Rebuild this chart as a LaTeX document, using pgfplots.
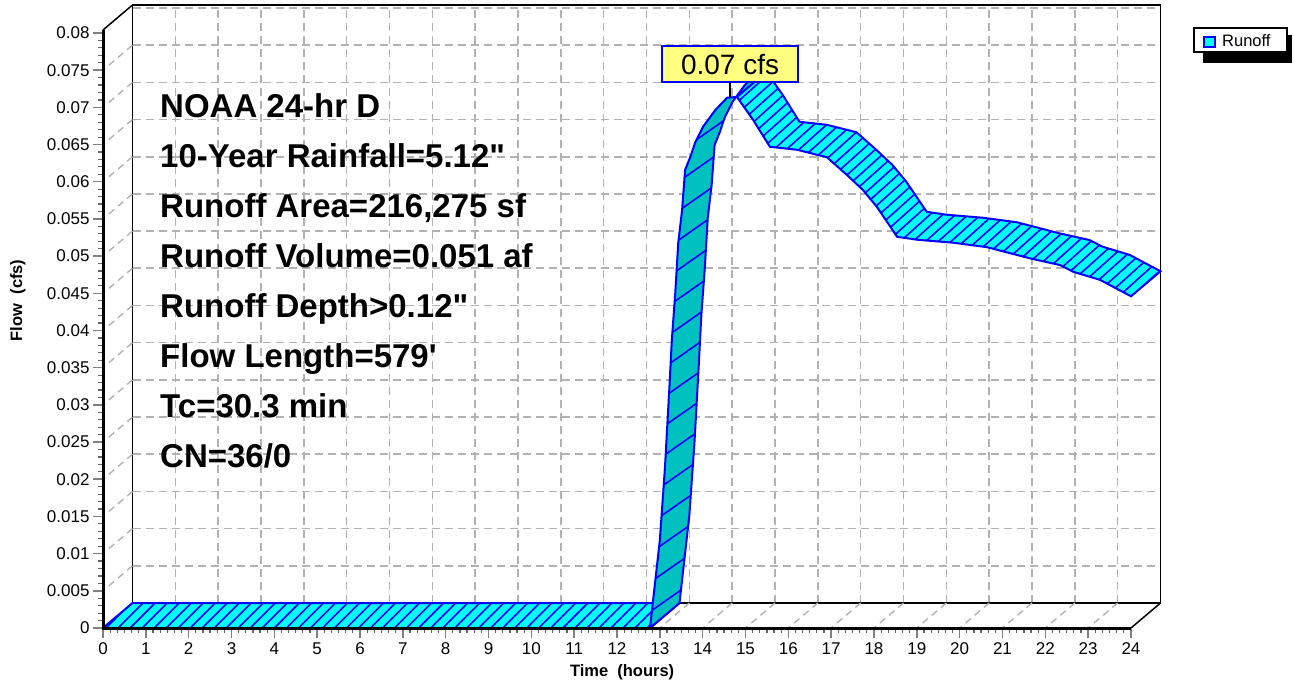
\documentclass[border=0pt]{standalone}
\usepackage{fontspec}
\setmainfont{Liberation Sans}
\usepackage{pgfplots}
\pgfplotsset{compat=1.18}
\usepackage{pgfplotstable}
\usetikzlibrary{patterns.meta}

\definecolor{runcyan}{RGB}{0,255,255}
\definecolor{rundark}{RGB}{0,192,192}
\definecolor{gridgray}{RGB}{178,178,178}
\definecolor{tagyellow}{RGB}{255,255,128}

% runoff hydrograph (hours, cfs) as closed ribbon outlines:
% s=0 front edge, s=1 back edge (same values, shifted by the ribbon depth)
\pgfplotstableread{
t q s
0 0 0
12.77 0 0
12.77 0 1
0 0 1
0 0 0
}\tabflat
\pgfplotstableread{
t q s
12.77 0 0
13.00 0.0118 0
13.12 0.0216 0
13.22 0.0320 0
13.28 0.0387 0
13.36 0.0450 0
13.43 0.0518 0
13.52 0.0562 0
13.59 0.0616 0
13.71 0.0633 0
13.82 0.0652 0
14.01 0.0674 0
14.29 0.0696 0
14.57 0.0713 0
14.80 0.0714 0
14.80 0.0714 1
14.57 0.0713 1
14.29 0.0696 1
14.01 0.0674 1
13.82 0.0652 1
13.71 0.0633 1
13.59 0.0616 1
13.52 0.0562 1
13.43 0.0518 1
13.36 0.0450 1
13.28 0.0387 1
13.22 0.0320 1
13.12 0.0216 1
13.00 0.0118 1
12.77 0 1
12.77 0 0
}\tabrise
\pgfplotstableread{
t q s
14.80 0.0714 0
15.18 0.0683 0
15.57 0.0647 0
16.20 0.0643 0
16.90 0.0633 0
17.37 0.0609 0
17.74 0.0589 0
18.07 0.0566 0
18.54 0.0526 0
19.01 0.0522 0
19.85 0.0518 0
20.64 0.0512 0
21.64 0.0497 0
22.34 0.0488 0
22.65 0.0479 0
23.28 0.0468 0
24.00 0.0446 0
24.00 0.0446 1
23.28 0.0468 1
22.65 0.0479 1
22.34 0.0488 1
21.64 0.0497 1
20.64 0.0512 1
19.85 0.0518 1
19.01 0.0522 1
18.54 0.0526 1
18.07 0.0566 1
17.74 0.0589 1
17.37 0.0609 1
16.90 0.0633 1
16.20 0.0643 1
15.57 0.0647 1
15.18 0.0683 1
14.80 0.0714 1
14.80 0.0714 0
}\tabfall

% depth of the 3d ribbon in axis units
\newcommand{\dt}{0.689}
\newcommand{\dq}{0.00336}
\newcommand{\tickfont}{\fontsize{17}{20}\selectfont}

\begin{document}
\begin{tikzpicture}
\path[use as bounding box] (0pt,0pt) rectangle (1294pt,686pt);

% back wall with grid
\begin{axis}[
  at={(132.5pt,83pt)}, anchor=south west,
  scale only axis, width=1028pt, height=598pt,
  xmin=0, xmax=24, ymin=0, ymax=0.0804,
  xtick distance=1, ytick distance=0.005,
  xticklabels={}, yticklabels={},
  scaled x ticks=false, scaled y ticks=false,
  major tick length=0pt,
  grid=major,
  grid style={gridgray, line width=1.6pt, dash pattern=on 8pt off 5pt},
  axis line style={black, line width=1.5pt},
  clip=false,
]
  \addplot[draw=none] coordinates {(0,0) (24,0.08)};
  % floor and side wall lines
  \pgfplotsinvokeforeach{1,...,23}{
    \draw[gridgray, line width=1.4pt, dash pattern=on 7pt off 5pt] (axis cs:#1,0) -- ++(-29.5pt,-25pt);
  }
  \pgfplotsinvokeforeach{1,...,15}{
    \draw[gridgray, line width=1.4pt, dash pattern=on 7pt off 5pt] (axis cs:0,#1*0.005) -- ++(-29.5pt,-25pt);
  }
  \draw[black, line width=1.5pt] (rel axis cs:0,1) -- ++(-29.5pt,-25pt);
  \draw[black, line width=1.5pt] (rel axis cs:1,0) -- ++(-29.5pt,-25pt);
\end{axis}

% front axes with the ribbon
\begin{axis}[
  at={(103pt,58pt)}, anchor=south west,
  scale only axis, width=1028pt, height=598pt,
  xmin=0, xmax=24, ymin=0, ymax=0.0804,
  axis x line*=bottom, axis y line*=left,
  axis line style={line width=3pt, black, -},
  clip=false,
  xtick distance=1, ytick distance=0.005,
  minor x tick num=5, minor y tick num=4,
  tick align=outside,
  major tick length=10pt, minor tick length=5pt,
  tick style={black!50, line width=1.5pt},
  minor tick style={black!60, line width=1.2pt},
  scaled y ticks=false,
  xticklabel={\tickfont\pgfmathprintnumber[assume math mode=true]{\tick}},
  yticklabel={\tickfont\pgfmathprintnumber[assume math mode=true, fixed, precision=3]{\tick}},
  xticklabel style={yshift=-1pt},
  xlabel={Time\ \ (hours)},
  xlabel style={font=\fontsize{16.5}{18}\selectfont\bfseries, at={(axis description cs:0.505,-0.0736)}, anchor=center},
  ylabel={Flow\ \ (cfs)},
  ylabel style={font=\fontsize{16.5}{18}\selectfont\bfseries, at={(axis description cs:-0.0827,0.548)}, anchor=center},
  table/x expr=\thisrow{t}+\thisrow{s}*\dt,
  table/y expr=\thisrow{q}+\thisrow{s}*\dq,
]
  % flat part
  \addplot[fill=runcyan, draw=none] table{\tabflat};
  \addplot[pattern={Lines[angle=45, distance=8.5pt, line width=1.6pt]}, pattern color=blue, draw=none] table{\tabflat};
  \addplot[draw=blue, line width=2pt] table{\tabflat};
  % rising limb
  \addplot[fill=rundark, draw=none] table{\tabrise};
  \addplot[pattern={Lines[angle=35, distance=24pt, line width=1.6pt]}, pattern color=blue, draw=none] table{\tabrise};
  \addplot[draw=blue, line width=2pt] table{\tabrise};
  % recession
  \addplot[fill=runcyan, draw=none] table{\tabfall};
  \addplot[pattern={Lines[angle=42, distance=8.5pt, line width=1.6pt]}, pattern color=blue, draw=none] table{\tabfall};
  \addplot[draw=blue, line width=2pt] table{\tabfall};

  % front axis lines over the ribbon
  \draw[black, line width=3pt] (rel axis cs:0,1) -- (rel axis cs:0,0) -- (rel axis cs:1,0);

  % peak tag
  \draw[black, line width=1.5pt] (axis cs:14.64,0.0714) -- ++(0,14pt)
    node[anchor=south, draw=blue, line width=1.5pt, fill=tagyellow, minimum width=136pt,
         minimum height=36pt, inner sep=0pt, font=\fontsize{28}{30}\selectfont] {0.07 cfs};
\end{axis}

% legend
\fill[black] (1203pt,623pt) rectangle (1292pt,651pt);
\draw[black, line width=1.2pt, fill=white] (1194pt,634pt) rectangle (1287pt,658pt);
\draw[blue, line width=1.5pt, fill=runcyan] (1204pt,639pt) rectangle (1215pt,649pt);
\node[anchor=west, inner sep=0pt, font=\fontsize{16.5}{18}\selectfont] at (1222pt,645pt) {Runoff};

% event summary
\begin{scope}[every node/.style={anchor=base west, inner sep=0pt, font=\fontsize{33}{40}\selectfont\bfseries}]
  \node at (160pt,568pt) {NOAA 24-hr D};
  \node at (160pt,518pt) {10-Year Rainfall=5.12\textquotedbl};
  \node at (160pt,468pt) {Runoff Area=216,275 sf};
  \node at (160pt,418pt) {Runoff Volume=0.051 af};
  \node at (160pt,368pt) {Runoff Depth>0.12\textquotedbl};
  \node at (160pt,318pt) {Flow Length=579\textquotesingle};
  \node at (160pt,268pt) {Tc=30.3 min};
  \node at (160pt,218pt) {CN=36/0};
\end{scope}
\end{tikzpicture}
\end{document}
